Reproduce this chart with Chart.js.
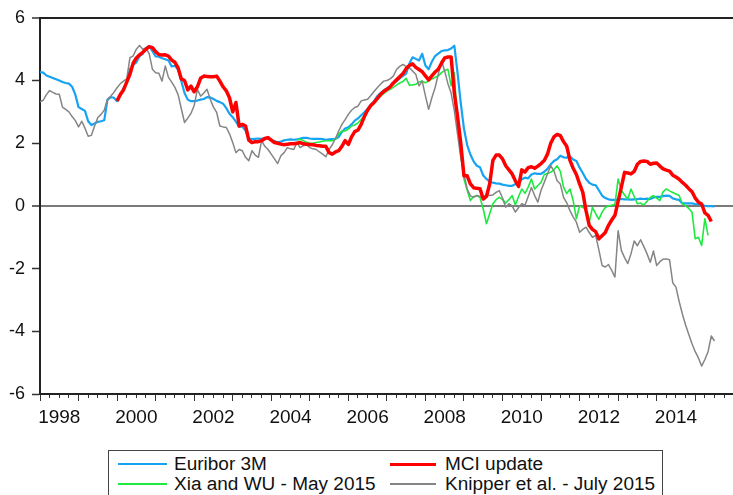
<!DOCTYPE html>
<html>
<head>
<meta charset="utf-8">
<script src="https://cdn.jsdelivr.net/npm/chart.js@4.4.1/dist/chart.umd.min.js"></script>
<style>
html,body{margin:0;padding:0;background:#fff;overflow:hidden;}
#wrap{position:relative;width:733px;height:495px;overflow:hidden;}
#c{position:absolute;left:0;top:0;}
#legend{position:absolute;left:108px;top:450px;width:555px;height:70px;border:1px solid #444;box-sizing:border-box;font-family:"Liberation Sans",Arial,sans-serif;font-size:18px;color:#111;background:#fff;}
.sw{position:absolute;}
.lt{position:absolute;height:20px;line-height:20px;white-space:nowrap;transform:scaleX(1.055);transform-origin:0 50%;}
</style>
</head>
<body>
<div id="wrap">
  <canvas id="c" width="733" height="495"></canvas>
  <div id="legend"></div>
</div>
<script>
// ---------------- DATA (monthly observations) ----------------
const seriesNames = ["Euribor 3M", "MCI update", "Xia and WU - May 2015", "Knipper et al. - July 2015"];
const yTickValues = [-6, -4, -2, 0, 2, 4, 6];
const xLabelYears = [1998, 2000, 2002, 2004, 2006, 2008, 2010, 2012, 2014];

const euriborStart = "1998-01";
const euribor = [
  4.27, 4.25, 4.16, 4.12, 4.08, 4.04, 4.00, 3.95, 3.92, 3.90, 3.80, 3.55,
  3.15, 3.09, 3.03, 2.70, 2.58, 2.63, 2.68, 2.70, 2.73, 3.38, 3.47, 3.45,
  3.34, 3.54, 3.75, 3.93, 4.36, 4.50, 4.58, 4.78, 4.85, 5.04, 5.09, 4.94,
  4.77, 4.76, 4.71, 4.68, 4.64, 4.45, 4.47, 4.35, 3.98, 3.60, 3.39, 3.34,
  3.34, 3.36, 3.39, 3.41, 3.47, 3.46, 3.41, 3.35, 3.31, 3.26, 3.12, 2.94,
  2.83, 2.69, 2.53, 2.53, 2.40, 2.15, 2.13, 2.14, 2.15, 2.14, 2.16, 2.15,
  2.09, 2.07, 2.03, 2.05, 2.09, 2.11, 2.12, 2.11, 2.12, 2.15, 2.17, 2.17,
  2.15, 2.14, 2.14, 2.14, 2.13, 2.11, 2.12, 2.13, 2.14, 2.20, 2.36, 2.47,
  2.51, 2.60, 2.72, 2.79, 2.89, 2.99, 3.10, 3.23, 3.34, 3.50, 3.60, 3.68,
  3.75, 3.82, 3.89, 3.98, 4.07, 4.15, 4.22, 4.54, 4.74, 4.69, 4.64, 4.85,
  4.48, 4.36, 4.60, 4.78, 4.86, 4.94, 4.96, 4.97, 5.02, 5.11, 4.24, 3.29,
  2.46, 1.94, 1.64, 1.42, 1.28, 1.23, 0.97, 0.86, 0.77, 0.74, 0.72, 0.71,
  0.68, 0.66, 0.64, 0.64, 0.69, 0.73, 0.85, 0.90, 0.88, 1.00, 1.04, 1.02,
  1.02, 1.09, 1.18, 1.32, 1.43, 1.49, 1.60, 1.55, 1.54, 1.58, 1.48, 1.43,
  1.22, 1.05, 0.86, 0.74, 0.68, 0.66, 0.50, 0.33, 0.25, 0.21, 0.19, 0.19,
  0.20, 0.22, 0.21, 0.21, 0.20, 0.21, 0.22, 0.23, 0.22, 0.23, 0.22, 0.27,
  0.29, 0.29, 0.31, 0.33, 0.32, 0.24, 0.21, 0.19, 0.08, 0.08, 0.08, 0.08,
  0.06, 0.05, 0.03, 0.00, -0.01, -0.01, -0.02
];

const mciStart = "2000-01";
const mci = [
  3.35, 3.55, 3.70, 3.95, 4.20, 4.55, 4.72, 4.82, 4.90, 5.00, 5.08, 5.05,
  4.92, 4.83, 4.81, 4.82, 4.78, 4.65, 4.58, 4.40, 4.05, 4.00, 3.70, 3.82,
  3.64, 3.80, 4.07, 4.14, 4.13, 4.12, 4.12, 4.14, 3.98, 3.80, 3.67, 3.45,
  3.00, 3.30, 2.55, 2.60, 2.55, 2.10, 2.02, 2.05, 2.05, 2.08, 2.15, 2.18,
  2.10, 2.02, 2.00, 1.97, 1.95, 1.97, 1.98, 1.98, 2.00, 2.02, 1.98, 1.97,
  1.96, 1.95, 1.93, 1.92, 1.90, 1.90, 1.70, 1.65, 1.72, 1.76, 1.90, 2.08,
  1.96, 2.20, 2.37, 2.42, 2.60, 2.85, 3.05, 3.20, 3.30, 3.42, 3.55, 3.65,
  3.72, 3.80, 3.92, 4.02, 4.12, 4.22, 4.38, 4.48, 4.53, 4.42, 4.35, 4.28,
  4.15, 4.02, 4.15, 4.27, 4.36, 4.55, 4.72, 4.75, 4.75, 3.60, 2.85, 2.00,
  0.96, 0.96, 0.70, 0.58, 0.56, 0.55, 0.22, 0.30, 0.70, 1.45, 1.62, 1.62,
  1.50, 1.28, 1.15, 1.02, 0.80, 0.62, 1.15, 1.08, 1.22, 1.25, 1.20, 1.27,
  1.35, 1.45, 1.65, 2.00, 2.20, 2.28, 2.24, 2.05, 1.90, 1.45, 1.20, 1.00,
  0.70, 0.43, -0.15, -0.62, -0.75, -0.82, -1.05, -0.95, -0.85, -0.62, -0.45, -0.30,
  0.15, 0.60, 1.07, 1.05, 1.02, 1.10, 1.33, 1.42, 1.43, 1.42, 1.33, 1.36,
  1.37, 1.27, 1.18, 1.14, 1.11, 0.98, 0.92, 0.85, 0.75, 0.66, 0.55, 0.45,
  0.25, 0.12, 0.06, -0.22, -0.30, -0.50
];

const xiaWuStart = "2004-09";
const xiaWu = [
  2.10, 2.13, 2.08, 2.03,
  2.00, 2.00, 2.02, 2.04, 2.06, 2.08, 2.08, 2.08, 2.13, 2.30, 2.39, 2.39,
  2.45, 2.55, 2.58, 2.65, 2.75, 2.90, 3.05, 3.20, 3.32, 3.42, 3.50, 3.58,
  3.66, 3.72, 3.78, 3.85, 3.92, 3.97, 4.07, 3.85, 3.86, 3.88, 3.95, 3.98,
  3.93, 3.98, 4.05, 4.10, 4.14, 4.25, 4.32, 4.36, 3.83, 4.25, 2.60, 1.60,
  0.86, 0.50, 0.17, 0.30, 0.33, 0.27, -0.10, -0.57, -0.25, 0.07, 0.20, 0.27,
  0.20, 0.09, 0.20, 0.33, 0.03, 0.30, 0.54, 0.40, 0.60, 0.86, 0.54, 0.65,
  0.75, 1.00, 1.03, 1.07, 1.15, 1.28, 1.10, 0.60, 0.39, 0.54, 0.17, -0.41,
  0.00, -0.05, -0.10, -0.52, -0.05, -0.25, -0.43, -0.20, -0.05, 0.00, 0.02, 0.05,
  0.86, 0.50, 0.35, 0.22, 0.54, 0.30, 0.07, 0.09, 0.03, 0.15, 0.27, 0.33,
  0.25, 0.17, 0.45, 0.54, 0.48, 0.43, 0.38, 0.33, 0.07, 0.00, -0.08, -0.20,
  -1.05, -1.00, -1.26, -0.41, -0.94
];

const knipperStart = "1998-01";
const knipper = [
  3.32, 3.37, 3.55, 3.68, 3.62, 3.57, 3.56, 3.15, 3.08, 3.00, 2.85, 2.72,
  2.52, 2.70, 2.48, 2.22, 2.25, 2.55, 2.82, 2.92, 3.05, 3.40, 3.50, 3.62,
  3.77, 3.90, 3.98, 4.05, 4.73, 4.78, 5.00, 5.12, 5.00, 5.04, 4.85, 4.36,
  4.25, 4.23, 3.98, 4.46, 4.10, 3.95, 3.78, 3.55, 3.10, 2.66, 2.80, 2.95,
  3.20, 3.72, 3.50, 3.60, 3.72, 3.40, 3.15, 2.98, 2.55, 2.52, 2.50, 2.30,
  2.02, 1.70, 1.80, 1.76, 1.55, 1.44, 1.76, 1.62, 1.55, 2.08, 1.90, 1.80,
  1.65, 1.50, 1.35, 1.60, 1.70, 1.86, 1.82, 1.80, 2.02, 1.86, 1.92, 1.96,
  1.86, 1.82, 1.80, 1.72, 1.65, 1.57, 1.80, 1.95, 2.15, 2.39, 2.60, 2.75,
  2.92, 3.05, 3.14, 3.18, 3.35, 3.38, 3.40, 3.52, 3.65, 3.77, 3.88, 3.98,
  4.00, 4.05, 4.14, 4.35, 4.45, 4.51, 4.45, 4.41, 4.30, 4.20, 3.83, 3.98,
  3.51, 3.08, 3.45, 3.77, 4.20, 4.62, 4.30, 3.90, 3.60, 3.03, 2.29, 1.55,
  1.02, 0.54, 0.32, 0.27, 0.33, 0.30, 0.27, 0.36, 0.33, 0.35, 0.43, 0.49,
  0.25, -0.04, 0.07, 0.00, -0.20, -0.05, 0.07, 0.02, 0.30, 0.59, 0.33, 0.12,
  0.50, 0.75, 1.02, 1.28, 1.12, 0.80, 0.70, 0.27, 0.10, -0.15, -0.35, -0.52,
  -0.84, -0.75, -0.68, -0.85, -1.00, -0.94, -1.40, -1.90, -1.95, -1.87, -2.06, -2.27,
  -0.79, -1.42, -1.65, -1.84, -1.53, -1.12, -1.27, -1.08, -1.30, -1.53, -1.80, -1.44,
  -1.90, -1.78, -1.70, -1.69, -1.72, -2.45, -2.59, -3.05, -3.45, -3.80, -4.10, -4.40,
  -4.65, -4.85, -5.11, -4.90, -4.65, -4.15, -4.31
];

// ---------------- helpers ----------------
function monthToX(ym, k) {
  const [y, m] = ym.split("-").map(Number);
  return y + (m - 1 + k) / 12;
}
function toPoints(start, vals) {
  return vals.map((v, k) => ({ x: monthToX(start, k), y: v }));
}

const X_MIN = 1998, X_MAX = 2015.98;
const quarterTicks = [];
for (let q = 0; X_MIN + q * 0.25 <= X_MAX; q++) quarterTicks.push(X_MIN + q * 0.25);
const yearTicks = [];
for (let y = X_MIN; y <= X_MAX; y++) yearTicks.push(y);

const FONT = "'Liberation Sans', Arial, sans-serif";
const colors = ["#16A3F2", "#FF0000", "#1FEA3F", "#858585"];
const widths = [2.2, 3.5, 1.6, 1.5];

const chart = new Chart(document.getElementById("c"), {
  type: "line",
  data: {
    datasets: [
      { label: seriesNames[0], data: toPoints(euriborStart, euribor), borderColor: colors[0], borderWidth: widths[0], order: 3 },
      { label: seriesNames[1], data: toPoints(mciStart, mci), borderColor: colors[1], borderWidth: widths[1], order: 0 },
      { label: seriesNames[2], data: toPoints(xiaWuStart, xiaWu), borderColor: colors[2], borderWidth: widths[2], order: 2 },
      { label: seriesNames[3], data: toPoints(knipperStart, knipper), borderColor: colors[3], borderWidth: widths[3], order: 1 }
    ]
  },
  options: {
    responsive: false,
    animation: false,
    parsing: true,
    elements: { point: { radius: 0, hoverRadius: 0 }, line: { tension: 0, fill: false, borderJoinStyle: "round" } },
    layout: { padding: { top: 16, left: 0, right: 0, bottom: 0 } },
    plugins: { legend: { display: false }, tooltip: { enabled: false } },
    events: [],
    scales: {
      x: {
        type: "linear", position: "bottom", min: X_MIN, max: X_MAX,
        afterBuildTicks: s => { s.ticks = quarterTicks.map(v => ({ value: v })); },
        afterFit: s => { s.height = 101; },
        border: { display: true, color: "#222", width: 2 },
        grid: { drawOnChartArea: false, drawTicks: true, tickLength: 4, tickColor: "#333", tickWidth: 1 },
        ticks: {
          autoSkip: false, maxRotation: 0, minRotation: 0, padding: 8, color: "#111",
          font: { family: FONT, size: 19 },
          callback: v => {
            const yr = Math.floor(v + 1e-9);
            return (Math.abs(v - yr - 0.5) < 1e-6 && xLabelYears.includes(yr)) ? String(yr) : "";
          }
        }
      },
      xMajor: {
        type: "linear", position: { y: -6 }, min: X_MIN, max: X_MAX,
        afterBuildTicks: s => { s.ticks = yearTicks.map(v => ({ value: v })); },
        border: { display: false },
        grid: { drawOnChartArea: false, drawTicks: true, tickLength: 7, tickColor: "#333", tickWidth: 1 },
        ticks: { display: false }
      },
      y: {
        type: "linear", position: "left", min: -6, max: 6,
        afterBuildTicks: s => { s.ticks = yTickValues.map(v => ({ value: v })); },
        afterFit: s => { s.width = 40; },
        border: { display: true, color: "#222", width: 2 },
        grid: {
          drawOnChartArea: true, drawTicks: true, tickLength: 8, tickColor: "#333", tickWidth: 1.5,
          color: c => (c.tick && c.tick.value === 0) ? "#7a7a7a" : ((c.tick && c.tick.value === 6) ? "#222" : "rgba(0,0,0,0)"),
          lineWidth: c => (c.tick && (c.tick.value === 0 || c.tick.value === 6)) ? 2 : 1
        },
        ticks: { padding: 7, color: "#111", font: { family: FONT, size: 18 }, callback: v => String(v) }
      }
    }
  }
});

// ---------------- HTML legend (real text) ----------------
const legend = document.getElementById("legend");
const legendPos = [
  { sx: 9, sw: 49, tx: 65, cy: 13 },
  { sx: 281, sw: 46, tx: 336, cy: 13 },
  { sx: 9, sw: 49, tx: 65, cy: 33 },
  { sx: 281, sw: 46, tx: 336, cy: 33 }
];
const legendLineW = [2, 3, 2, 1.2];
seriesNames.forEach((name, i) => {
  const p = legendPos[i];
  const sw = document.createElement("div");
  sw.className = "sw";
  sw.style.left = p.sx + "px";
  sw.style.width = p.sw + "px";
  sw.style.height = legendLineW[i] + "px";
  sw.style.top = (p.cy - legendLineW[i] / 2) + "px";
  sw.style.background = colors[i];
  legend.appendChild(sw);
  const t = document.createElement("div");
  t.className = "lt";
  t.style.left = p.tx + "px";
  t.style.top = (p.cy - 10) + "px";
  t.textContent = name;
  legend.appendChild(t);
});
</script>
</body>
</html>
